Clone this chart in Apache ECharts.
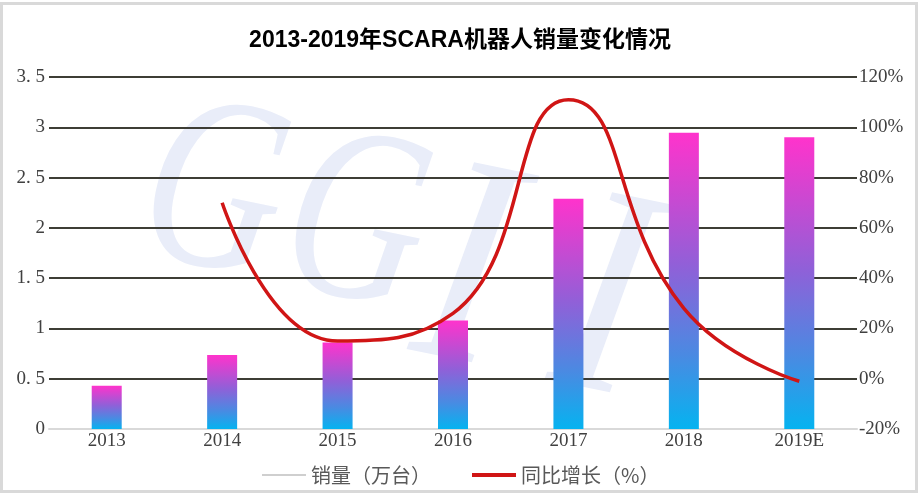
<!DOCTYPE html>
<html>
<head>
<meta charset="utf-8">
<script src="https://cdn.jsdelivr.net/npm/echarts@6/dist/echarts.min.js"></script>
<style>
html,body{margin:0;padding:0;background:#fff;}
#c{width:920px;height:496px;}
</style>
</head>
<body>
<div id="c"></div>
<script>
const categories = ['2013','2014','2015','2016','2017','2018','2019E'];
const sales = [0.43, 0.735, 0.86, 1.08, 2.29, 2.945, 2.90];
const growth = [null, 70, 15, 26, 111, 28, -1];
const leftTicks = ['0','0. 5','1','1. 5','2','2. 5','3','3. 5'];
const seriesNames = ['销量（万台）','同比增长（%）'];
const titleText = '2013-2019年SCARA机器人销量变化情况';
const watermark = ['G','G','I','I'];

const chart = echarts.init(document.getElementById('c'));
const serif = '"Liberation Serif", "Times New Roman", serif';
const cjk = '"Noto Sans CJK SC", sans-serif';

const wmPos = [[171, 64], [313, 95], [453, 125], [591, 155]];
const wmSize = [250, 250, 300, 300];
const wmScale = [0.76, 0.76, 0.85, 0.85];
const wm = watermark.map((ch, i) => ({
  type: 'text', z: -10, silent: true, x: wmPos[i][0], y: wmPos[i][1], rotation: -0.2, scaleX: wmScale[i],
  style: {text: ch, font: 'italic ' + wmSize[i] + 'px "Liberation Serif", serif', fill: '#e9edf9', textVerticalAlign: 'top'}
}));

chart.setOption({
  animation: false,
  backgroundColor: '#fff',
  title: {
    text: titleText,
    left: 'center',
    top: 24,
    textStyle: {fontFamily: '"Liberation Sans", "Noto Sans CJK SC", sans-serif', fontSize: 23, fontWeight: 'bold', color: '#000'}
  },
  graphic: [
    {type: 'rect', z: 100, silent: true, shape: {x: 1.5, y: 3.5, width: 915, height: 488},
     style: {fill: 'none', stroke: '#d9d9d9', lineWidth: 3}}
  ].concat(wm),
  legend: [
    {data: [{name: seriesNames[0], itemStyle: {color: '#a0a0a0'}}], left: 257, top: 460, icon: 'rect',
     itemWidth: 44, itemHeight: 1, itemGap: 4,
     textStyle: {fontFamily: cjk, fontSize: 20, color: '#595959'}},
    {data: [{name: seriesNames[1], itemStyle: {color: '#d01515'}}], left: 467, top: 460, icon: 'rect',
     itemWidth: 44, itemHeight: 4,
     textStyle: {fontFamily: cjk, fontSize: 20, color: '#595959'}}
  ],
  grid: {left: 49, right: 63, top: 77, bottom: 67},
  xAxis: {
    type: 'category',
    data: categories,
    axisLine: {lineStyle: {color: '#d9d9d9', width: 2}},
    axisTick: {show: false},
    axisLabel: {fontFamily: serif, fontSize: 19, color: '#404040', margin: 3}
  },
  yAxis: [
    {type: 'value', min: 0, max: 3.5, interval: 0.5,
     axisLine: {show: false}, axisTick: {show: false},
     axisLabel: {fontFamily: serif, fontSize: 19, color: '#404040', margin: 4,
       formatter: (v) => leftTicks[Math.round(v * 2)]},
     splitLine: {lineStyle: {color: '#3d3d35', width: 2}}},
    {type: 'value', min: -20, max: 120, interval: 20,
     axisLine: {show: false}, axisTick: {show: false},
     axisLabel: {fontFamily: serif, fontSize: 19, color: '#404040', margin: 2, formatter: '{value}%'},
     splitLine: {show: false}}
  ],
  series: [
    {name: seriesNames[0], type: 'bar', data: sales, barWidth: 30, yAxisIndex: 0,
     itemStyle: {color: new echarts.graphic.LinearGradient(0, 0, 0, 1, [
       {offset: 0, color: '#ff33cc'},
       {offset: 0.45, color: '#9060d8'},
       {offset: 0.75, color: '#4a8ae2'},
       {offset: 1, color: '#05b3f0'}
     ])}},
    {name: seriesNames[1], type: 'line', data: growth, yAxisIndex: 1, smooth: 0.5,
     symbol: 'none', connectNulls: false,
     lineStyle: {color: '#d01515', width: 3.5}, itemStyle: {color: '#d01515'}}
  ]
});
</script>
</body>
</html>
